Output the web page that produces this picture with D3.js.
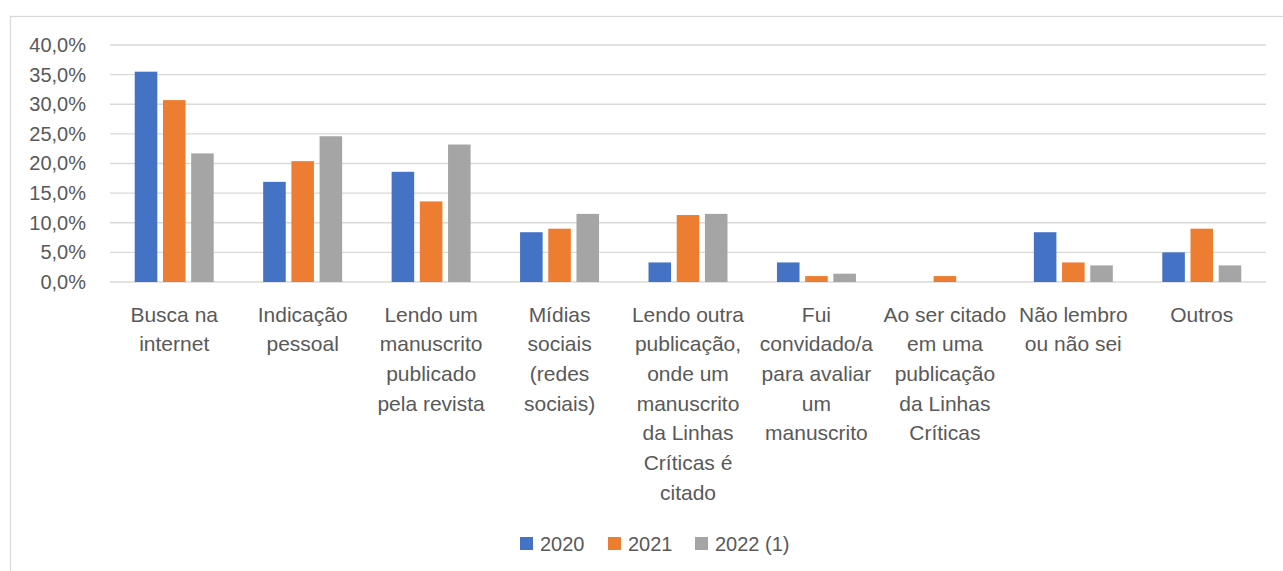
<!DOCTYPE html>
<html>
<head>
<meta charset="utf-8">
<script src="https://cdn.jsdelivr.net/npm/d3@7"></script>
<style>
  body { margin: 0; background: #fff; }
  svg { display: block; font-family: "Liberation Sans", Arial, sans-serif; }
</style>
</head>
<body>
<svg width="1283" height="571"></svg>
<script>
const width = 1283, height = 571;

// categories, each split into the lines shown under the axis
const categories = [
    ["Busca na", "internet"],
    ["Indicação", "pessoal"],
    ["Lendo um", "manuscrito", "publicado", "pela revista"],
    ["Mídias", "sociais", "(redes", "sociais)"],
    ["Lendo outra", "publicação,", "onde um", "manuscrito", "da Linhas", "Críticas é", "citado"],
    ["Fui", "convidado/a", "para avaliar", "um", "manuscrito"],
    ["Ao ser citado", "em uma", "publicação", "da Linhas", "Críticas"],
    ["Não lembro", "ou não sei"],
    ["Outros"]
];
const seriesNames = ["2020", "2021", "2022 (1)"];
const values2020 = [0.355, 0.169, 0.186, 0.084, 0.033, 0.033, 0.000, 0.084, 0.050];
const values2021 = [0.307, 0.204, 0.136, 0.090, 0.113, 0.010, 0.010, 0.033, 0.090];
const values2022 = [0.217, 0.246, 0.232, 0.115, 0.115, 0.014, 0.000, 0.028, 0.028];
const yTicks = [0, 0.05, 0.10, 0.15, 0.20, 0.25, 0.30, 0.35, 0.40];
const colors = ["#4472C4", "#ED7D31", "#A5A5A5"];

const series = [values2020, values2021, values2022];
const catIdx = d3.range(categories.length);

const plot = {left: 110, right: 1266, top: 45, bottom: 282};
const textColor = "#595959";
const gridColor = "#d9d9d9";

const locale = d3.formatLocale({decimal: ",", thousands: ".", grouping: [3], currency: ["", ""]});
const pct = locale.format(".1%");

const svg = d3.select("svg");

// chart area border (cut off at right and bottom)
svg.append("rect")
    .attr("x", 10.5)
    .attr("y", 16.5)
    .attr("width", 1400)
    .attr("height", 700)
    .attr("fill", "none")
    .attr("stroke", gridColor)
    .attr("stroke-width", 1.3);

const x0 = d3.scaleBand()
    .domain(catIdx)
    .range([plot.left, plot.right])
    .paddingInner(0.385)
    .paddingOuter(0.1925);

const x1 = d3.scaleBand()
    .domain(d3.range(seriesNames.length))
    .range([0, x0.bandwidth()])
    .paddingInner(0.2);

const y = d3.scaleLinear()
    .domain([0, 0.4])
    .range([plot.bottom, plot.top]);

// gridlines
svg.append("g")
    .selectAll("line")
    .data(yTicks)
    .join("line")
    .attr("x1", plot.left)
    .attr("x2", plot.right)
    .attr("y1", d => y(d))
    .attr("y2", d => y(d))
    .attr("stroke", gridColor)
    .attr("stroke-width", 1.3);

// y axis labels
const yAxis = svg.append("g")
    .attr("transform", `translate(${plot.left - 24},0)`)
    .call(d3.axisLeft(y).tickValues(yTicks).tickFormat(pct).tickSize(0).tickPadding(0));
yAxis.select(".domain").remove();
yAxis.selectAll("text")
    .attr("fill", textColor)
    .style("font-size", "20px")
    .style("font-family", "Liberation Sans, Arial, sans-serif");

// bars
const groups = svg.append("g")
    .selectAll("g")
    .data(catIdx)
    .join("g")
    .attr("transform", i => `translate(${x0(i)},0)`);

groups.selectAll("rect")
    .data(i => series.map((s, k) => ({k, v: s[i]})))
    .join("rect")
    .attr("x", d => x1(d.k))
    .attr("y", d => y(d.v))
    .attr("width", x1.bandwidth())
    .attr("height", d => y(0) - y(d.v))
    .attr("fill", d => colors[d.k]);

// category labels
const lineH = 29.7;
const labels = svg.append("g")
    .selectAll("text")
    .data(catIdx)
    .join("text")
    .attr("x", i => x0(i) + x0.bandwidth() / 2)
    .attr("y", 321.5)
    .attr("text-anchor", "middle")
    .attr("fill", textColor)
    .style("font-size", "21px");

labels.selectAll("tspan")
    .data(i => categories[i])
    .join("tspan")
    .attr("x", function() { return d3.select(this.parentNode).attr("x"); })
    .attr("dy", (d, j) => j === 0 ? 0 : lineH)
    .text(d => d);

// legend
const legendItems = [
    {name: seriesNames[0], x: 520},
    {name: seriesNames[1], x: 608},
    {name: seriesNames[2], x: 695}
];
const legend = svg.append("g");
legend.selectAll("rect")
    .data(legendItems)
    .join("rect")
    .attr("x", d => d.x)
    .attr("y", 537)
    .attr("width", 13)
    .attr("height", 13)
    .attr("fill", (d, i) => colors[i]);
legend.selectAll("text")
    .data(legendItems)
    .join("text")
    .attr("x", d => d.x + 20)
    .attr("y", 550.5)
    .attr("fill", textColor)
    .style("font-size", "20px")
    .text(d => d.name);
</script>
</body>
</html>
